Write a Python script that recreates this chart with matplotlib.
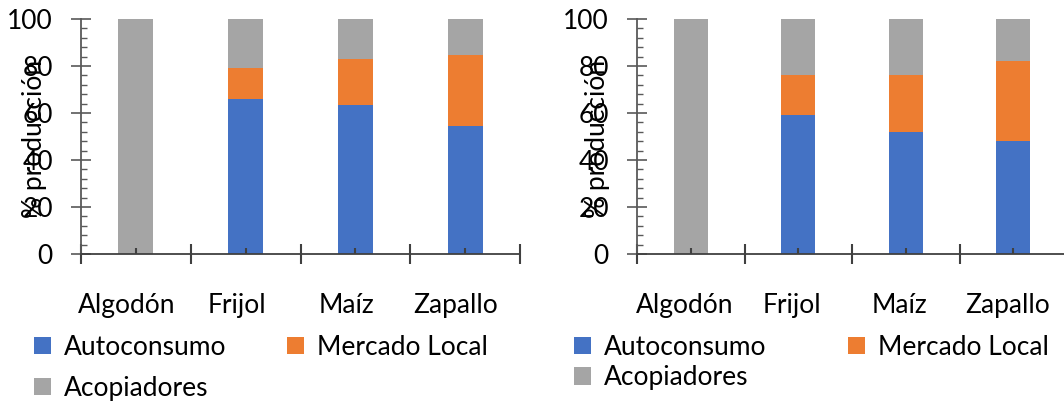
import matplotlib
matplotlib.use("Agg")
import matplotlib.pyplot as plt
from matplotlib.patches import Patch
from matplotlib.transforms import ScaledTranslation
from matplotlib.ticker import MultipleLocator, FixedLocator, NullFormatter

plt.rcParams['font.family'] = ['Lato', 'DejaVu Sans']

cultivos = ['Algodón', 'Frijol', 'Maíz', 'Zapallo']
series = ['Autoconsumo', 'Mercado Local', 'Acopiadores']
colores = ['#4472C4', '#ED7D31', '#A5A5A5']

# porcentaje de la producción por destino (panel izquierdo)
auto_a = [0, 66, 63.5, 54.5]
merc_a = [0, 13, 19.5, 30]
acop_a = [100, 21, 17, 15.5]

# porcentaje de la producción por destino (panel derecho)
auto_b = [0, 59, 52, 48]
merc_b = [0, 17, 24, 34]
acop_b = [100, 24, 24, 18]

FS = 19
AX_COLOR = '#595959'

fig = plt.figure(figsize=(10.64, 4.01), dpi=100)
W, H = 1064, 401


def panel(rect, datos, lab_shift, ylab_x, leg_anchor, colsp, labsp):
    ax = fig.add_axes(rect)
    x = range(len(cultivos))
    bottom = [0] * len(cultivos)
    for vals, col, name in zip(datos, colores, series):
        ax.bar(x, vals, width=0.32, bottom=bottom, color=col, label=name)
        bottom = [b + v for b, v in zip(bottom, vals)]
    ax.set_xlim(-0.5, len(cultivos) - 0.5)
    ax.set_ylim(0, 100)
    for s in ('top', 'right'):
        ax.spines[s].set_visible(False)
    for s in ('left', 'bottom'):
        ax.spines[s].set_color(AX_COLOR)
        ax.spines[s].set_linewidth(1.3)
    ax.spines['bottom'].set_color('#404040')

    # eje x: marcas largas entre categorías, cortas en el centro
    ax.xaxis.set_major_locator(FixedLocator([i - 0.5 for i in range(len(cultivos) + 1)]))
    ax.xaxis.set_major_formatter(NullFormatter())
    ax.xaxis.set_minor_locator(FixedLocator(list(x)))
    ax.set_xticklabels(cultivos, minor=True)
    ax.tick_params(axis='x', which='major', direction='inout', length=14.4,
                   width=1.5, color='#404040')
    ax.tick_params(axis='x', which='minor', direction='in', length=4.3,
                   width=1.5, color='#404040', pad=28, labelsize=FS)
    off = ScaledTranslation(lab_shift / 100, 0, fig.dpi_scale_trans)
    for lab in ax.get_xticklabels(minor=True):
        lab.set_transform(lab.get_transform() + off)

    # eje y
    ax.yaxis.set_major_locator(MultipleLocator(20))
    ax.yaxis.set_minor_locator(MultipleLocator(4))
    ax.tick_params(axis='y', which='major', direction='inout', length=14.4,
                   width=1.2, color=AX_COLOR, pad=13, labelsize=FS)
    ax.tick_params(axis='y', which='minor', direction='in', length=4.3,
                   width=1.0, color=AX_COLOR)
    ax.set_ylabel('% producción', fontsize=FS)
    ax.yaxis.set_label_coords(ylab_x, 0.49)
    ax.yaxis.label.set_va('center')

    # leyenda en filas: Autoconsumo, Mercado Local / Acopiadores
    orden = [0, 2, 1]
    handles = [Patch(facecolor=colores[i], edgecolor='none') for i in orden]
    fig.legend(handles, [series[i] for i in orden], loc='upper left',
               bbox_to_anchor=leg_anchor, ncol=2, frameon=False, fontsize=FS,
               handlelength=0.64, handleheight=0.64, handletextpad=0.5,
               columnspacing=colsp, labelspacing=labsp, borderpad=0,
               borderaxespad=0)
    return ax


ax1 = panel([81 / W, (H - 254) / H, 439 / W, 235 / H],
            [auto_a, merc_a, acop_a], -9, -0.105,
            (34 / W, (H - 335) / H), 2.3, 0.6)
ax2 = panel([637 / W, (H - 254) / H, 430 / W, 235 / H],
            [auto_b, merc_b, acop_b], -6, -0.093,
            (574 / W, (H - 335) / H), 3.1, 0.2)

fig.savefig('out.png', dpi=100)
